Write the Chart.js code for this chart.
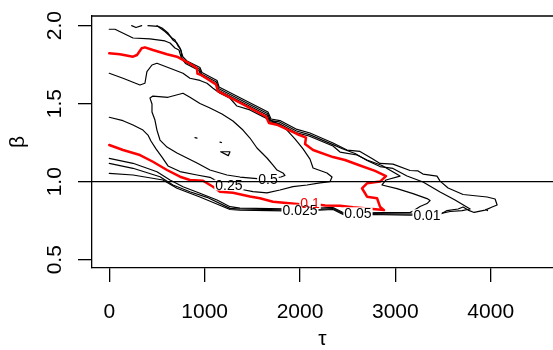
<!DOCTYPE html>
<html>
<head>
<meta charset="utf-8">
<script src="https://cdn.jsdelivr.net/npm/chart.js@4.4.1/dist/chart.umd.min.js"></script>
<style>
  html, body { margin: 0; padding: 0; background: #fff; }
  canvas { display: block; }
</style>
</head>
<body>
<canvas id="contourChart" width="553" height="350"></canvas>
<script>
// axis ticks and reference line
const tauTicks = [0, 1000, 2000, 3000, 4000];
const betaTicks = [0.5, 1.0, 1.5, 2.0];
const betaRef = 1;

// contour levels drawn
const levels = [0.01, 0.025, 0.05, 0.1, 0.25, 0.5];

// 0.01 contour
const tau001 = [500, 553, 616, 668, 710, 742, 773, 815, 951, 972, 1130, 1151, 1664, 1696, 1790, 1969, 2105, 2346, 2493, 2629, 2755, 2839, 2975, 3154, 3238, 3290, 3437, 3469, 3553, 3710, 3962, 4046, 4067, 4015, 3941, 3889, 3826, 3763, 3710, 3658, 3542, 3469, 3332, 3154, 2734, 2472, 2441, 2346, 2000, 1371, 1266, 951, 710, 563, 249, 0];
const beta001 = [2.0, 1.985, 1.953, 1.908, 1.889, 1.857, 1.799, 1.774, 1.732, 1.700, 1.649, 1.607, 1.447, 1.402, 1.392, 1.335, 1.312, 1.248, 1.203, 1.194, 1.149, 1.117, 1.113, 1.072, 1.069, 1.049, 1.036, 1.004, 0.960, 0.918, 0.902, 0.889, 0.851, 0.838, 0.818, 0.812, 0.803, 0.818, 0.838, 0.825, 0.815, 0.790, 0.788, 0.786, 0.790, 0.786, 0.793, 0.822, 0.812, 0.818, 0.822, 0.902, 0.958, 1.011, 1.043, 1.054];
const tau001dot = [3951, 3966];
const beta001dot = [0.822, 0.815];

// 0.025 contour
const tau0025 = [406, 511, 584, 658, 689, 721, 752, 762, 804, 946, 967, 1124, 1145, 1659, 1691, 1785, 1963, 2100, 2346, 2451, 2577, 2703, 2839, 2975, 3122, 3290, 3469, 3626, 3731, 3784, 3700, 3574, 3469, 3154, 2734, 2472, 2441, 2346, 2000, 1371, 1266, 1025, 846, 668, 532, 249, 0];
const beta0025 = [2.0, 1.995, 1.963, 1.921, 1.908, 1.870, 1.844, 1.793, 1.764, 1.722, 1.690, 1.639, 1.597, 1.437, 1.392, 1.383, 1.325, 1.302, 1.238, 1.210, 1.181, 1.136, 1.097, 1.085, 1.037, 0.998, 0.934, 0.883, 0.844, 0.825, 0.815, 0.809, 0.796, 0.793, 0.796, 0.793, 0.799, 0.828, 0.818, 0.825, 0.829, 0.900, 0.936, 0.979, 1.032, 1.086, 1.118];
const tau0025top = [235, 280, 340];
const beta0025top = [2.0, 1.988, 2.0];

// 0.05 contour
const tau005 = [0, 60, 249, 427, 584, 637, 689, 731, 757, 799, 941, 962, 1119, 1140, 1654, 1685, 1780, 1958, 2094, 2346, 2420, 2598, 2703, 2860, 3049, 2902, 2860, 3017, 3185, 3332, 3364, 3332, 3259, 3185, 3154, 2892, 2608, 2472, 2441, 2346, 2000, 1371, 1266, 1130, 951, 773, 637, 500, 249, 0];
const beta005 = [1.977, 1.977, 1.921, 1.915, 1.902, 1.889, 1.857, 1.844, 1.790, 1.758, 1.713, 1.681, 1.629, 1.588, 1.428, 1.383, 1.373, 1.315, 1.293, 1.229, 1.190, 1.171, 1.139, 1.104, 1.036, 1.011, 0.979, 0.956, 0.924, 0.892, 0.879, 0.860, 0.841, 0.812, 0.802, 0.802, 0.801, 0.799, 0.806, 0.835, 0.825, 0.831, 0.840, 0.883, 0.926, 0.968, 1.011, 1.064, 1.118, 1.150];

// 0.1 contour
const tau01 = [0, 112, 249, 291, 340, 374, 458, 605, 710, 815, 878, 920, 925, 972, 1119, 1140, 1643, 1675, 1769, 1968, 2063, 2053, 2137, 2346, 2472, 2629, 2787, 2902, 2839, 2703, 2650, 2682, 2703, 2808, 2839, 2881, 2703, 2556, 2420, 2263, 2105, 2000, 1717, 1580, 1475, 1297, 1161, 1088, 983, 846, 742, 605, 458, 322, 144, 0];
const beta01 = [1.823, 1.817, 1.801, 1.812, 1.855, 1.861, 1.844, 1.817, 1.801, 1.767, 1.745, 1.726, 1.693, 1.681, 1.623, 1.581, 1.418, 1.376, 1.363, 1.306, 1.283, 1.242, 1.203, 1.158, 1.139, 1.104, 1.069, 1.036, 1.001, 0.990, 0.958, 0.926, 0.904, 0.894, 0.840, 0.818, 0.829, 0.836, 0.846, 0.848, 0.860, 0.855, 0.872, 0.894, 0.905, 0.929, 0.936, 0.968, 1.006, 1.011, 1.032, 1.075, 1.128, 1.171, 1.203, 1.235];

// 0.25 contour
const tau025 = [0, 144, 322, 374, 395, 448, 500, 637, 773, 846, 951, 1025, 1088, 1161, 1266, 1339, 1475, 1612, 1759, 1863, 1947, 2032, 2105, 2137, 2283, 2336, 2315, 2210, 2074, 1926, 1790, 1654, 1507, 1392, 1255, 1119, 1056, 920, 742, 616, 553, 490, 437, 406, 353, 249, 144, 0];
const beta025 = [1.695, 1.663, 1.620, 1.631, 1.705, 1.748, 1.759, 1.727, 1.695, 1.663, 1.649, 1.631, 1.599, 1.567, 1.535, 1.485, 1.460, 1.417, 1.374, 1.331, 1.274, 1.210, 1.145, 1.088, 1.056, 1.030, 1.001, 0.992, 0.979, 0.968, 0.947, 0.929, 0.936, 0.950, 0.979, 1.008, 1.028, 1.043, 1.065, 1.101, 1.158, 1.210, 1.261, 1.299, 1.331, 1.363, 1.391, 1.413];

// 0.5 contour (closed)
const tau05 = [427, 458, 616, 773, 846, 951, 1056, 1182, 1297, 1402, 1475, 1549, 1654, 1717, 1759, 1821, 1842, 1800, 1664, 1549, 1371, 1234, 1056, 920, 815, 710, 605, 532, 500, 479, 448, 448, 427];
const beta05 = [1.536, 1.549, 1.541, 1.567, 1.541, 1.501, 1.472, 1.434, 1.389, 1.331, 1.280, 1.216, 1.152, 1.107, 1.075, 1.056, 1.040, 1.030, 1.017, 1.020, 1.030, 1.043, 1.075, 1.120, 1.152, 1.184, 1.222, 1.267, 1.331, 1.395, 1.447, 1.498, 1.536];

// small islands at the peak
const tauPeakA = [1168, 1266, 1248, 1168];
const betaPeakA = [1.192, 1.192, 1.167, 1.192];
const tauPeakB = [899, 920];
const betaPeakB = [1.283, 1.279];
const tauPeakC = [1161, 1177];
const betaPeakC = [1.254, 1.251];

const TAU_MIN = -181, TAU_MAX = 4653;
const BETA_MIN = 0.447, BETA_MAX = 2.062;
const FONT = '"Liberation Sans", Arial, Helvetica, sans-serif';

function toPoints(taus, betas) {
    return taus.map((t, i) => ({ x: t, y: betas[i] }));
}

function contourLine(taus, betas, color, width) {
    return {
        data: toPoints(taus, betas),
        showLine: true,
        borderColor: color,
        borderWidth: width,
        pointRadius: 0,
        borderCapStyle: "round",
        borderJoinStyle: "round",
        fill: false,
        tension: 0,
    };
}

// dataset 0 is drawn last, so the reference line sits on top
const datasets = [
    contourLine([TAU_MIN, TAU_MAX], [betaRef, betaRef], "#000", 1.3),
    contourLine(tau01, beta01, "#ff0000", 2.5),
    contourLine(tau001, beta001, "#000", 1.2),
    contourLine(tau001dot, beta001dot, "#000", 1.2),
    contourLine(tau0025, beta0025, "#000", 1.2),
    contourLine(tau0025top, beta0025top, "#000", 1.2),
    contourLine(tau005, beta005, "#000", 1.2),
    contourLine(tau025, beta025, "#000", 1.2),
    contourLine(tau05, beta05, "#000", 1.2),
    contourLine(tauPeakA, betaPeakA, "#000", 1.2),
    contourLine(tauPeakB, betaPeakB, "#000", 1.2),
    contourLine(tauPeakC, betaPeakC, "#000", 1.2),
];

// which dataset / vertex carries each level label
const labelSpots = [
    { ds: 2, at: 42, level: levels[0], color: "#000" },
    { ds: 4, at: 38, level: levels[1], color: "#000" },
    { ds: 6, at: 36, level: levels[2], color: "#000" },
    { ds: 1, at: 40, level: levels[3], color: "#ff0000" },
    { ds: 7, at: 34, level: levels[4], color: "#000" },
    { ds: 8, at: 18, level: levels[5], color: "#000" },
];

const contourLabels = {
    id: "contourLabels",
    beforeDatasetDraw(chart, args) {
        if (args.index !== 0) return;
        const ctx = chart.ctx;
        ctx.save();
        ctx.font = "14px " + FONT;
        ctx.textAlign = "center";
        ctx.textBaseline = "middle";
        const boxes = labelSpots.map((s) => {
            const pt = chart.getDatasetMeta(s.ds).data[s.at];
            const text = String(s.level);
            return { x: pt.x, y: pt.y, w: ctx.measureText(text).width, text: text, color: s.color };
        });
        ctx.fillStyle = "#fff";
        boxes.forEach((b) => ctx.fillRect(b.x - b.w / 2 - 1, b.y - 5.5, b.w + 2, 11));
        boxes.forEach((b) => {
            ctx.fillStyle = b.color;
            ctx.fillText(b.text, b.x, b.y + 1);
        });
        ctx.restore();
    },
    afterDraw(chart) {
        const { ctx, chartArea, scales } = chart;
        ctx.save();
        ctx.strokeStyle = "#000";
        ctx.lineWidth = 1.3;
        ctx.beginPath();
        ctx.moveTo(chartArea.left, chartArea.top);
        ctx.lineTo(chartArea.right, chartArea.top);
        ctx.stroke();

        // β tick labels run along the axis, like the axis title
        ctx.font = "21px " + FONT;
        ctx.fillStyle = "#000";
        ctx.textAlign = "center";
        ctx.textBaseline = "alphabetic";
        const x = scales.y.right - 31;
        betaTicks.forEach((v) => {
            ctx.save();
            ctx.translate(x, scales.y.getPixelForValue(v));
            ctx.rotate(-Math.PI / 2);
            ctx.fillText(v.toFixed(1), 0, 0);
            ctx.restore();
        });
        ctx.restore();
    },
};

new Chart(document.getElementById("contourChart"), {
    type: "scatter",
    data: { datasets: datasets },
    options: {
        responsive: false,
        animation: false,
        events: [],
        layout: { padding: { top: 16, right: 0, bottom: 0, left: 0 } },
        plugins: { legend: { display: false }, tooltip: { enabled: false } },
        scales: {
            x: {
                type: "linear",
                min: TAU_MIN,
                max: TAU_MAX,
                afterBuildTicks: (scale) => { scale.ticks = tauTicks.map((v) => ({ value: v })); },
                afterFit: (scale) => { scale.height = 82; },
                grid: { drawOnChartArea: false, color: "#000", lineWidth: 1.3, tickLength: 14 },
                border: { display: true, color: "#000", width: 1.3 },
                ticks: {
                    color: "#000",
                    padding: 18,
                    maxRotation: 0,
                    font: { size: 21, family: FONT },
                    callback: (v) => String(v),
                },
                title: {
                    display: true,
                    text: "τ",
                    color: "#000",
                    font: { size: 21, family: FONT, lineHeight: 1 },
                    padding: { top: 0, bottom: 0 },
                },
            },
            y: {
                type: "linear",
                min: BETA_MIN,
                max: BETA_MAX,
                afterBuildTicks: (scale) => { scale.ticks = betaTicks.map((v) => ({ value: v })); },
                afterFit: (scale) => { scale.width = 92; },
                grid: { drawOnChartArea: false, color: "#000", lineWidth: 1.3, tickLength: 14 },
                border: { display: true, color: "#000", width: 1.3 },
                ticks: { display: false },
                title: {
                    display: true,
                    text: "β",
                    color: "#000",
                    font: { size: 21, family: FONT, lineHeight: 1 },
                    padding: { top: 7.5, bottom: 0 },
                },
            },
        },
    },
    plugins: [contourLabels],
});
</script>
</body>
</html>
